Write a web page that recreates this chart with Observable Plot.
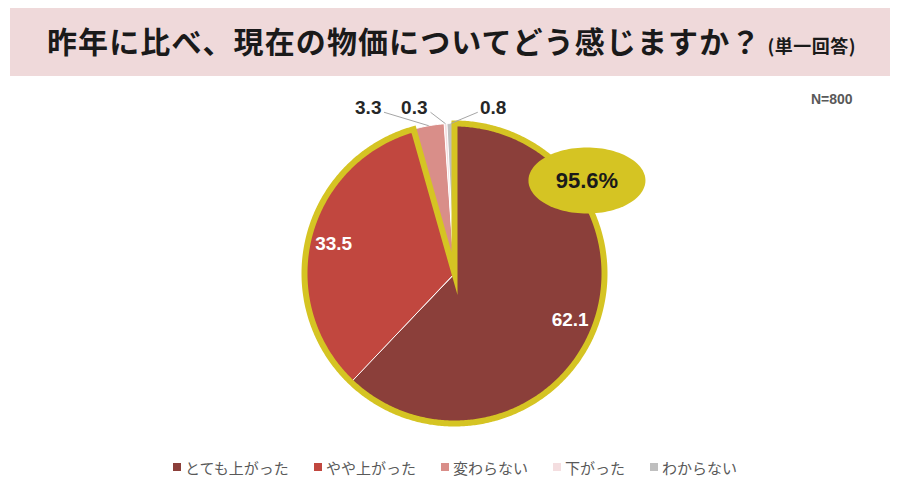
<!DOCTYPE html>
<html>
<head>
<meta charset="utf-8">
<script src="https://cdn.jsdelivr.net/npm/d3@7"></script>
<script src="https://cdn.jsdelivr.net/npm/@observablehq/plot@0.6"></script>
<style>
  html, body { margin: 0; padding: 0; background: #fff; width: 900px; height: 491px; overflow: hidden; }
  body { position: relative; font-family: "Noto Sans CJK JP", "Noto Sans", sans-serif; }
  .banner { position: absolute; left: 10px; top: 8px; width: 880px; height: 68px; background: #EFD9DA; }
  .banner .t { position: absolute; left: 37px; top: 12px; font-size: 30px; font-weight: 700; color: #1a1a1a; letter-spacing: 1.1px; line-height: 40px; white-space: nowrap; }
  .banner .t small { font-size: 18px; font-weight: 700; letter-spacing: 0.5px; margin-left: 6px; }
  .n { position: absolute; left: 811px; top: 91px; font-family: "Liberation Sans", Arial, sans-serif; font-weight: 700; font-size: 14px; color: #595959; }
  #chart { position: absolute; left: 0; top: 80px; width: 900px; height: 370px; }
  .legend { position: absolute; left: 0; top: 455px; width: 900px; height: 24px; display: flex; justify-content: center; align-items: center; gap: 25px; padding-left: 10px; box-sizing: border-box; }
  .legend .item { display: flex; align-items: center; font-size: 15px; color: #595959; white-space: nowrap; }
  .legend .sw { width: 8px; height: 8px; margin-right: 4px; }
</style>
</head>
<body>
<div class="banner"><div class="t" id="title"></div></div>
<div class="n" id="n"></div>
<div id="chart"></div>
<div class="legend" id="legend"></div>
<script>
// ---- data ----
const titleText = "昨年に比べ、現在の物価についてどう感じますか？";
const subtitleText = "(単一回答)";
const sampleText = "N=800";
const categories = ["とても上がった", "やや上がった", "変わらない", "下がった", "わからない"];
const values = [62.1, 33.5, 3.3, 0.3, 0.8];
const colors = ["#8B3F3A", "#C1473F", "#D98E89", "#F4DEE0", "#BFBFBF"];
const highlightCategories = ["とても上がった", "やや上がった"];
const highlightText = "95.6%";
const insideLabelCategories = ["とても上がった", "やや上がった"];

// ---- layout (not data) ----
const yellow = "#D5C423";
const insideLabelRadius = 0.83;
// label position [x, y] and leader-line start [x, y] in pie units
const outsideLayout = {
  "変わらない": {lx: -0.575, ly: 1.107, sx: -0.47, sy: 1.075},
  "下がった":   {lx: -0.268, ly: 1.107, sx: -0.16, sy: 1.075},
  "わからない": {lx: 0.258,  ly: 1.107, sx: 0.155, sy: 1.075}
};
const ellipseLayout = {cx: 0.883, cy: 0.62, rx: 0.39, ry: 0.22};

// ---- text ----
document.getElementById("title").innerHTML = titleText + "<small>" + subtitleText + "</small>";
document.getElementById("n").textContent = sampleText;

// ---- geometry from values ----
const total = d3.sum(values);
const slices = [];
let cum = 0;
categories.forEach((c, i) => {
  const a0 = cum / total * 2 * Math.PI;
  cum += values[i];
  const a1 = cum / total * 2 * Math.PI;
  slices.push({cat: c, value: values[i], a0, a1, mid: (a0 + a1) / 2});
});
function sector(a0, a1, key) {
  const pts = [{x: 0, y: 0, key}];
  const n = Math.max(2, Math.ceil((a1 - a0) / 0.01));
  for (let k = 0; k <= n; k++) {
    const a = a0 + (a1 - a0) * k / n;
    pts.push({x: Math.sin(a), y: Math.cos(a), key});
  }
  return pts;
}
const slicePts = slices.flatMap(s => sector(s.a0, s.a1, s.cat).map(p => ({...p, cat: s.cat})));
const hl = slices.filter(s => highlightCategories.includes(s.cat));
const groupPts = sector(d3.min(hl, s => s.a0), d3.max(hl, s => s.a1), "hl");
const ellPts = d3.range(0, 120).map(k => {
  const t = k / 120 * 2 * Math.PI;
  return {x: ellipseLayout.cx + ellipseLayout.rx * Math.cos(t), y: ellipseLayout.cy + ellipseLayout.ry * Math.sin(t)};
});
const insideLabels = slices.filter(s => insideLabelCategories.includes(s.cat)).map(s => ({
  x: insideLabelRadius * Math.sin(s.mid), y: insideLabelRadius * Math.cos(s.mid), text: s.value.toFixed(1)
}));
const outside = slices.filter(s => outsideLayout[s.cat]).map(s => ({
  ...outsideLayout[s.cat], ex: Math.sin(s.mid), ey: Math.cos(s.mid), text: s.value.toFixed(1)
}));

const chart = Plot.plot({
  width: 900, height: 370,
  marginLeft: 304, marginRight: 296, marginTop: 43, marginBottom: 27,
  x: {domain: [-1, 1], axis: null},
  y: {domain: [-1, 1], axis: null},
  color: {domain: categories, range: colors},
  style: {overflow: "visible", background: "transparent"},
  marks: [
    Plot.line(slicePts, {x: "x", y: "y", z: "cat", fill: "cat", stroke: "#ffffff", strokeWidth: 1, curve: "linear-closed"}),
    Plot.line(groupPts, {x: "x", y: "y", stroke: yellow, strokeWidth: 6, fill: "none", curve: "linear-closed", strokeLinejoin: "miter", strokeMiterlimit: 12}),
    Plot.link(outside, {x1: "sx", y1: "sy", x2: "ex", y2: "ey", stroke: "#A6A6A6", strokeWidth: 1}),
    Plot.text(outside, {x: "lx", y: "ly", text: "text", fill: "#262626", fontSize: 19, fontWeight: 700, fontFamily: "Liberation Sans, Arial, sans-serif"}),
    Plot.text(insideLabels, {x: "x", y: "y", text: "text", fill: "#ffffff", fontSize: 19, fontWeight: 700, fontFamily: "Liberation Sans, Arial, sans-serif"}),
    Plot.line(ellPts, {x: "x", y: "y", fill: yellow, stroke: "none", curve: "linear-closed"}),
    Plot.text([highlightText], {x: ellipseLayout.cx, y: ellipseLayout.cy, text: d => d, fill: "#1a1a1a", fontSize: 22, fontWeight: 700, fontFamily: "Liberation Sans, Arial, sans-serif"})
  ]
});
document.getElementById("chart").appendChild(chart);

// legend
const lg = document.getElementById("legend");
categories.forEach((c, i) => {
  const it = document.createElement("div");
  it.className = "item";
  it.innerHTML = `<span class="sw" style="background:${colors[i]}"></span>${c}`;
  lg.appendChild(it);
});
</script>
</body>
</html>
